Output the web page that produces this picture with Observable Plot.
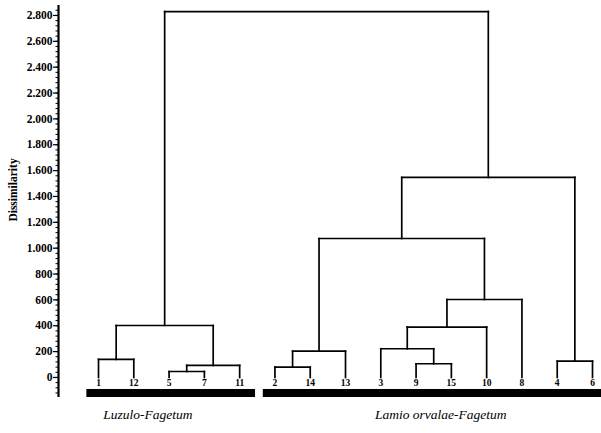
<!DOCTYPE html>
<html>
<head>
<meta charset="utf-8">
<script src="https://cdn.jsdelivr.net/npm/d3@7"></script>
<script src="https://cdn.jsdelivr.net/npm/@observablehq/plot@0.6"></script>
<style>
  html, body { margin: 0; padding: 0; background: #fff; }
  #chart svg { display: block; }
</style>
</head>
<body>
<div id="chart"></div>
<script>
// Leaf order (left to right) and cluster merges: [left child, right child, dissimilarity]
const leafLabels = ["1","12","5","7","11","2","14","13","3","9","15","10","8","4","6"];
const merges = [
  ["1","12",140],      // n0
  ["5","7",46],        // n1
  ["n1","11",93],      // n2
  ["n0","n2",402],     // n3
  ["2","14",80],       // n4
  ["n4","13",203],     // n5
  ["9","15",106],      // n6
  ["3","n6",222],      // n7
  ["n7","10",390],     // n8
  ["n8","8",603],      // n9
  ["n5","n9",1075],    // n10
  ["4","6",126],       // n11
  ["n10","n11",1547],  // n12
  ["n3","n12",2830]    // n13
];
const yTicks = [0,200,400,600,800,1000,1200,1400,1600,1800,2000,2200,2400,2600,2800];
const yTitle = "Dissimilarity";
const groupNames = ["Luzulo-Fagetum", "Lamio orvalae-Fagetum"];
const groupFirstLeaf = ["1", "2"];
const groupLastLeaf = ["11", "6"];
const groupCaptionAt = [1.4, 9.7]; // leaf-index position of each caption

// Build dendrogram geometry from the data
const pos = new Map();
leafLabels.forEach((l, i) => pos.set(l, {x: i, h: 0}));
const segs = [];
merges.forEach(([a, b, h], i) => {
  const A = pos.get(a), B = pos.get(b);
  segs.push({x1: A.x, y1: A.h, x2: A.x, y2: h});
  segs.push({x1: B.x, y1: B.h, x2: B.x, y2: h});
  segs.push({x1: A.x, y1: h, x2: B.x, y2: h});
  pos.set("n" + i, {x: (A.x + B.x) / 2, h});
});
const leaves = leafLabels.map((l, i) => ({label: l, x: i}));
const groups = groupNames.map((g, i) => ({
  name: g,
  x1: leafLabels.indexOf(groupFirstLeaf[i]) - 0.33,
  x2: leafLabels.indexOf(groupLastLeaf[i]) + 0.45,
  cx: groupCaptionAt[i]
}));

const xMin = -1.134, xMax = 14.255;
const yMin = -155, yMax = 2877;
const minorTicks = d3.range(-120, 2861, 40);
const fmt = d3.formatLocale({decimal: ",", thousands: ".", grouping: [3], currency: ["", ""]}).format(",d");
const serif = "'Liberation Serif', 'DejaVu Serif', serif";

const chart = Plot.plot({
  width: 601,
  height: 433,
  marginLeft: 58,
  marginRight: 0,
  marginTop: 5,
  marginBottom: 36,
  style: {fontFamily: serif, background: "#fff", color: "#000"},
  x: {domain: [xMin, xMax], axis: null},
  y: {domain: [yMin, yMax], axis: null},
  marks: [
    Plot.axisY(minorTicks, {tickSize: 2.5, tickFormat: () => "", strokeWidth: 1}),
    Plot.axisY(yTicks, {tickSize: 5, tickPadding: 1, tickFormat: fmt, fontSize: 11.5, fontWeight: "bold", strokeWidth: 1.2, label: null}),
    Plot.ruleX([xMin], {y1: yMin, y2: yMax, strokeWidth: 2.2, stroke: "#000"}),
    Plot.text([yTitle], {x: xMin, y: 1450, dx: -45, rotate: -90, fontSize: 11.5, fontWeight: "bold", fill: "#000"}),
    Plot.link(segs, {x1: "x1", y1: "y1", x2: "x2", y2: "y2", stroke: "#000", strokeWidth: 1.7, strokeLinecap: "square"}),
    Plot.text(leaves, {x: "x", y: -40, text: "label", fontSize: 9.5, fontWeight: "bold", fill: "#000"}),
    Plot.rect(groups, {x1: "x1", x2: "x2", y1: -93, y2: yMin, fill: "#000"}),
    Plot.text(groups, {x: "cx", frameAnchor: "bottom", dy: 21, text: "name", fontSize: 13.5, fontStyle: "italic", fill: "#000"})
  ]
});
document.getElementById("chart").append(chart);
</script>
</body>
</html>
